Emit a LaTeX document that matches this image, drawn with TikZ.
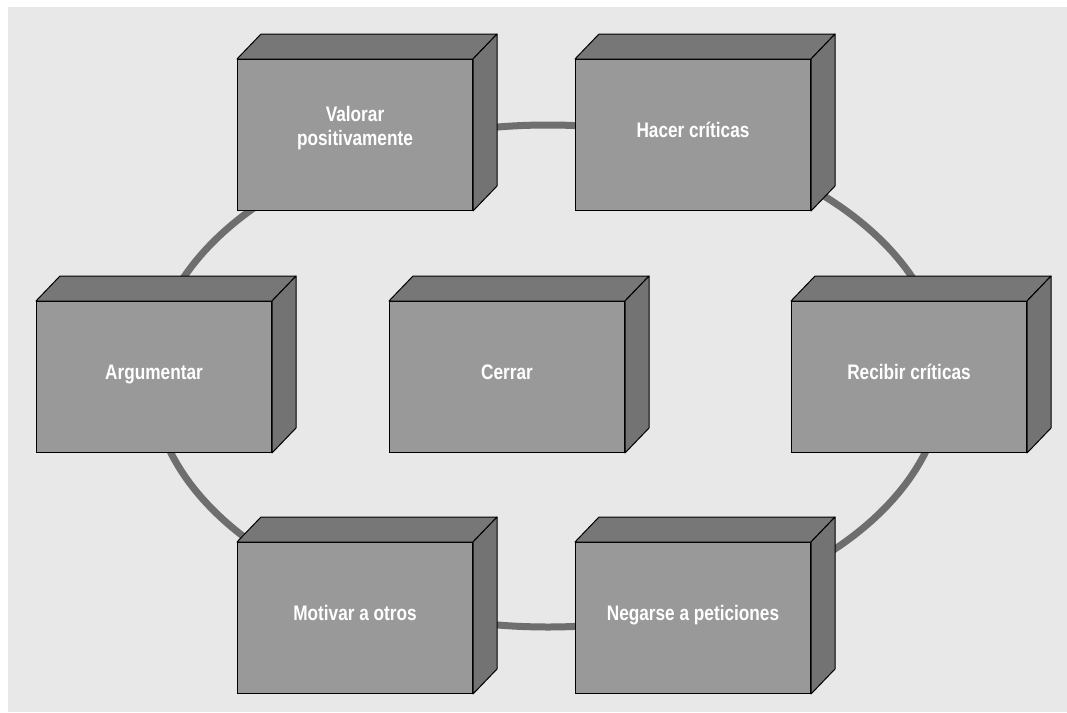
\documentclass[tikz,border=0pt]{standalone}
\usepackage{fontspec}
\setmainfont{Liberation Sans}
\newfontfamily\boxfont{Liberation Sans}[FakeStretch=0.82]
\definecolor{bgc}{HTML}{E8E8E8}
\definecolor{frontc}{HTML}{999999}
\definecolor{topc}{HTML}{777777}
\definecolor{sidec}{HTML}{737373}
\definecolor{ringc}{HTML}{6E6E6E}
\newcommand\drawcube[5]{%
  \node[front] (#1) at (#2,#3) {};
  \draw[face, fill=topc] (#1.north west) -- ++(24,-25) -- ([shift={(24,-25)}]#1.north east) -- (#1.north east) -- cycle;
  \draw[face, fill=sidec] (#1.north east) -- ++(24,-25) -- ([shift={(24,-25)}]#1.south east) -- (#1.south east) -- cycle;
  \node[lbl,#5] (#1-t) at ([yshift=5pt]#1.center) {#4};
}
\begin{document}
\begin{tikzpicture}[x=1pt,y=-1pt,
  front/.style={draw=black, line width=1pt, fill=frontc, minimum width=235pt, minimum height=151pt, anchor=north west, inner sep=0pt},
  face/.style={draw=black, line width=1pt, line join=round},
  lbl/.style={text=white, font=\boxfont\bfseries\fontsize{21}{24}\selectfont, align=center, inner sep=0pt},
  oneline/.style={text height=15pt, text depth=0pt},
  ring/.style={draw=ringc, line width=7pt}
]
\useasboundingbox (0,0) rectangle (1067,712);
\fill[bgc] (8,7) rectangle (1067,712);
\coordinate (c) at (548,376);
\draw[ring] (c) ellipse [x radius=396, y radius=251];
\drawcube{valorar}{237}{59}{Valorar\\positivamente}{yshift=2pt}
\drawcube{hacer}{575}{59}{Hacer críticas}{oneline}
\drawcube{argumentar}{36}{301}{Argumentar}{oneline}
\drawcube{cerrar}{389}{301}{Cerrar}{oneline}
\drawcube{recibir}{791}{301}{Recibir críticas}{oneline}
\drawcube{motivar}{237}{542}{Motivar a otros}{oneline}
\drawcube{negarse}{575}{542}{Negarse a peticiones}{oneline}
\end{tikzpicture}
\end{document}
